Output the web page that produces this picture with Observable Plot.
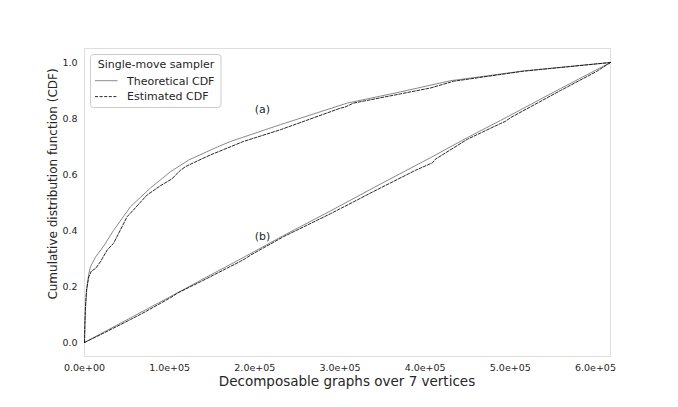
<!DOCTYPE html>
<html>
<head>
<meta charset="utf-8">
<script src="https://cdn.jsdelivr.net/npm/d3@7"></script>
<script src="https://cdn.jsdelivr.net/npm/@observablehq/plot@0.6"></script>
<style>
  html, body { margin: 0; padding: 0; background: #fff; }
  #chart { width: 678px; height: 407px; }
</style>
</head>
<body>
<div id="chart"></div>
<script>
// ---- data ----
const xMax = 617675;
const xTicks = [0, 100000, 200000, 300000, 400000, 500000, 600000];
const yTicks = [0, 0.2, 0.4, 0.6, 0.8, 1.0];

// (a) theoretical CDF
const aTheoX = [0, 600, 1500, 3000, 5000, 7000, 12900, 22700, 34000, 54000, 77500, 101000, 122500, 155800, 171400, 230000, 308500, 371000, 429800, 450000, 515500, 617675];
const aTheoY = [0, 0.07, 0.14, 0.20, 0.245, 0.27, 0.305, 0.345, 0.40, 0.485, 0.552, 0.61, 0.652, 0.698, 0.718, 0.778, 0.855, 0.895, 0.935, 0.943, 0.97, 1.0];

// (a) estimated CDF
const aEstX = [0, 400, 1000, 2300, 5000, 8000, 12900, 19000, 26600, 34000, 38000, 50000, 73600, 89200, 103000, 106900, 112700, 118600, 132300, 148000, 186700, 230200, 300600, 305300, 315900, 371100, 406300, 433300, 515500, 617675];
const aEstY = [0, 0.06, 0.12, 0.186, 0.234, 0.255, 0.264, 0.29, 0.33, 0.354, 0.377, 0.449, 0.527, 0.56, 0.585, 0.598, 0.615, 0.628, 0.648, 0.67, 0.718, 0.76, 0.837, 0.84, 0.855, 0.888, 0.909, 0.933, 0.969, 1.0];

// (b) theoretical CDF
const bTheoX = [0, 54000, 108900, 136200, 183200, 233700, 288900, 347600, 406300, 449700, 488500, 559000, 617675];
const bTheoY = [0, 0.088, 0.177, 0.222, 0.298, 0.382, 0.47, 0.566, 0.66, 0.732, 0.793, 0.907, 1.0];

// (b) estimated CDF
const bEstX = [0, 18800, 54000, 71600, 101000, 108900, 136200, 183200, 189100, 195000, 233700, 288900, 347600, 388700, 408700, 412200, 449700, 488500, 494400, 500300, 559000, 601300, 617675];
const bEstY = [0, 0.028, 0.082, 0.11, 0.16, 0.176, 0.217, 0.29, 0.30, 0.312, 0.378, 0.46, 0.552, 0.615, 0.642, 0.655, 0.726, 0.782, 0.79, 0.803, 0.9, 0.968, 1.0];

const annX = [209000, 209000];
const annY = [0.832, 0.38];
const annText = ["(a)", "(b)"];

const seriesNames = ["Theoretical CDF", "Estimated CDF"];
const legendTitle = "Single-move sampler";
const xLabel = "Decomposable graphs over 7 vertices";
const yLabel = "Cumulative distribution function (CDF)";

// ---- build tables ----
const toRows = (xs, ys) => xs.map((x, i) => ({x, y: ys[i]}));
const aTheo = toRows(aTheoX, aTheoY);
const aEst = toRows(aEstX, aEstY);
const bTheo = toRows(bTheoX, bTheoY);
const bEst = toRows(bEstX, bEstY);
const ann = annText.map((t, i) => ({x: annX[i], y: annY[i], t}));

const fmtE = d => {
  const [m, e] = d.toExponential(1).split("e");
  return `${m}e${e[0]}${e.slice(1).padStart(2, "0")}`;
};

const theoColor = "#8a8a8a";
const estColor = "#111111";
const dash = "3,1.6";

const svg = Plot.plot({
  width: 678,
  height: 407,
  marginLeft: 84,
  marginRight: 68,
  marginTop: 48,
  marginBottom: 51,
  style: {fontFamily: "DejaVu Sans", fontSize: "9.5px", color: "#262626", background: "#fff", overflow: "visible"},
  x: {domain: [0, xMax], ticks: xTicks, tickFormat: fmtE, tickSize: 0, tickPadding: 8, label: null},
  y: {domain: [-0.05, 1.05], ticks: yTicks, tickFormat: d3.format(".1f"), tickSize: 0, tickPadding: 7, label: null},
  marks: [
    Plot.frame({stroke: "#dedede", strokeWidth: 1}),
    Plot.line(aTheo, {x: "x", y: "y", stroke: theoColor, strokeWidth: 1}),
    Plot.line(bTheo, {x: "x", y: "y", stroke: theoColor, strokeWidth: 1}),
    Plot.line(aEst, {x: "x", y: "y", stroke: estColor, strokeWidth: 0.9, strokeDasharray: dash}),
    Plot.line(bEst, {x: "x", y: "y", stroke: estColor, strokeWidth: 0.9, strokeDasharray: dash}),
    Plot.text(ann, {x: "x", y: "y", text: "t", fontSize: 11, fill: "#262626"})
  ]
});

document.getElementById("chart").appendChild(svg);

const s = d3.select(svg);
// axis labels
s.append("text")
  .attr("x", 347).attr("y", 386)
  .attr("text-anchor", "middle")
  .attr("font-size", 13.5)
  .attr("fill", "#262626")
  .text(xLabel);
s.append("text")
  .attr("transform", "translate(57,184) rotate(-90)")
  .attr("text-anchor", "middle")
  .attr("font-size", 12)
  .attr("fill", "#262626")
  .text(yLabel);

// legend
const lg = s.append("g").attr("font-size", 11).attr("fill", "#262626").attr("text-anchor", "start");
lg.append("rect")
  .attr("x", 90.5).attr("y", 54.5).attr("width", 130.5).attr("height", 53)
  .attr("rx", 3).attr("fill", "#fff").attr("stroke", "#cccccc").attr("stroke-width", 1);
lg.append("text")
  .attr("x", 156).attr("y", 64).attr("dy", "0.35em")
  .attr("text-anchor", "middle").text(legendTitle);
const rowsY = [80.7, 96.6];
const styles = [{stroke: theoColor, dash: null, w: 1}, {stroke: estColor, dash: dash, w: 0.9}];
seriesNames.forEach((name, i) => {
  lg.append("line")
    .attr("x1", 95).attr("x2", 117.5).attr("y1", rowsY[i]).attr("y2", rowsY[i])
    .attr("stroke", styles[i].stroke).attr("stroke-width", styles[i].w)
    .attr("stroke-dasharray", styles[i].dash);
  lg.append("text")
    .attr("x", 127).attr("y", rowsY[i]).attr("dy", "0.35em")
    .attr("text-anchor", "start")
    .text(name);
});
</script>
</body>
</html>
